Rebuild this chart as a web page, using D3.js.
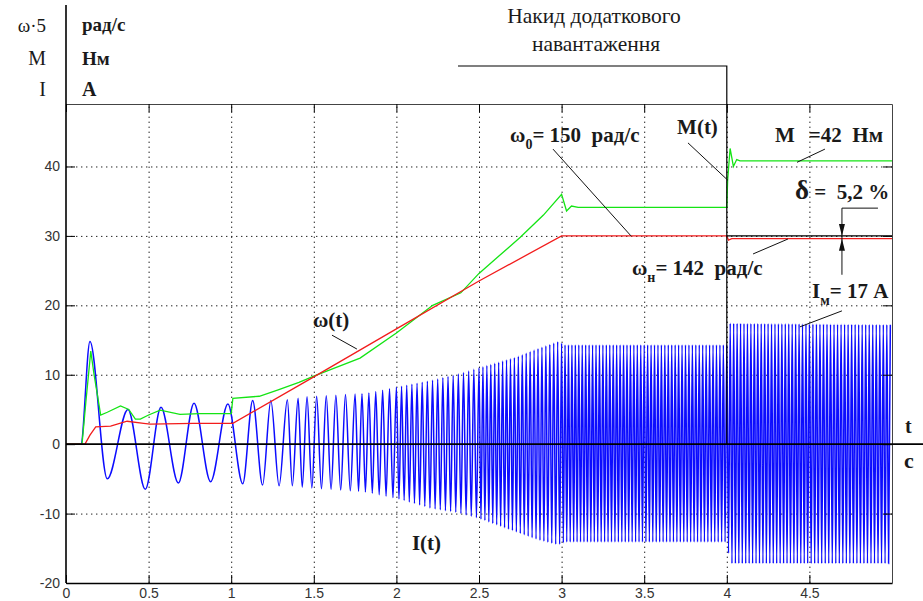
<!DOCTYPE html>
<html>
<head>
<meta charset="utf-8">
<script src="https://cdn.jsdelivr.net/npm/d3@7.9.0/dist/d3.min.js"></script>
<style>
  body { margin: 0; background: #fff; }
  svg text.serif { font-family: "Liberation Serif", "DejaVu Serif", serif; fill: #1a1a1a; white-space: pre; }
  .tick text { font-family: "Liberation Sans", Arial, sans-serif; font-size: 14px; fill: #333; }
  .ann { font-weight: bold; font-size: 21px; }
</style>
</head>
<body>
<svg id="chart" width="923" height="601"></svg>
<script>
// tick values
const xTicks = [0, 0.5, 1, 1.5, 2, 2.5, 3, 3.5, 4, 4.5];
const yTicks = [-20, -10, 0, 10, 20, 30, 40];

// M(t), green
const mT = [0, 0.097, 0.12, 0.15, 0.17, 0.21, 0.25, 0.33, 0.38, 0.42, 0.45, 0.5, 0.57, 0.69, 0.81, 1.0, 1.01, 1.17, 1.28, 1.41, 1.5, 1.78, 2.0, 2.22, 2.39, 2.5, 2.75, 2.89, 3.0, 3.03, 3.06, 3.1, 4.0, 4.005, 4.02, 4.04, 4.06, 4.08, 5.0];
const mV = [0, 0, 6, 13.4, 10, 4.2, 4.6, 5.5, 5.0, 3.6, 3.6, 4.2, 4.9, 4.3, 4.4, 4.4, 6.6, 6.9, 7.8, 8.9, 9.8, 12.4, 16, 20, 21.8, 24.6, 29.8, 33, 36, 33.6, 34.3, 34.1, 34.1, 38, 42.6, 40, 41, 40.8, 40.8];

// omega(t)/5, red
const wT = [0, 0.115, 0.145, 0.18, 0.27, 0.37, 0.47, 0.51, 0.77, 1.01, 1.5, 2.0, 2.5, 3.0, 4.0, 4.01, 4.03, 5.0];
const wV = [0, 0, 1.3, 2.5, 2.6, 3.3, 3.0, 2.9, 3.0, 3.0, 9.7, 16.6, 23.5, 30, 30, 29.4, 29.6, 29.6];

// I(t), blue: peaks that can be read one by one at the start
const iPeakT = [0, 0.09, 0.145, 0.25, 0.375, 0.48, 0.575, 0.68, 0.775, 0.875, 0.98, 1.07, 1.13, 1.19, 1.24, 1.29, 1.34, 1.37, 1.405, 1.43];
const iPeakV = [0, 0, 14.8, -5, 5, -6.5, 5.3, -5.6, 5.9, -5.4, 5.8, -5.7, 6.3, -5.9, 6.3, -6.0, 6.4, -6.0, 6.6, -6.2];
// dense part: envelope
const envT  = [1.43, 1.82, 2.0, 2.22, 2.36, 2.5, 2.72, 2.86, 2.98, 3.02, 4.0, 4.02, 5.0];
const envHi = [6.8, 7.3, 8.2, 9.2, 10, 11, 12.5, 13.8, 14.8, 14.3, 14.3, 17.4, 17.2];
const envLo = [-6.2, -6.9, -7.8, -9.3, -9.8, -10.7, -12.6, -13.8, -14.5, -14.1, -14.1, -17.2, -17.2];
// half-cycles counted in each interval
const denseT = [1.43, 1.75, 2.0, 2.5, 3.0, 3.5, 4.0, 4.5, 4.99];
const denseHalf = [11, 12, 32, 42, 48, 48, 48, 46];

const svg = d3.select('#chart');
const x = d3.scaleLinear().domain([0, 5]).range([66, 892]);
const y = d3.scaleLinear().domain([-20, 49]).range([583, 104]);
const plotH = y(-20) - y(49), plotW = x(5) - x(0);

svg.append('clipPath').attr('id', 'clip')
  .append('rect').attr('x', x(0)).attr('y', y(49)).attr('width', plotW).attr('height', plotH);

//dotted grid
svg.append('g').attr('transform', `translate(0,${y(-20)})`)
  .call(d3.axisBottom(x).tickValues(xTicks.slice(1)).tickSize(-plotH).tickFormat(''))
  .call(g => g.select('.domain').remove())
  .selectAll('line').attr('stroke', '#222').attr('stroke-dasharray', '1.4,3.6');
svg.append('g').attr('transform', `translate(${x(0)},0)`)
  .call(d3.axisLeft(y).tickValues([-10, 10, 20, 30, 40]).tickSize(-plotW).tickFormat(''))
  .call(g => g.select('.domain').remove())
  .selectAll('line').attr('stroke', '#222').attr('stroke-dasharray', '1.4,3.6');

//curves
const line = d3.line().x(d => x(d[0])).y(d => y(d[1]));
const hi = d3.scaleLinear().domain(envT).range(envHi);
const lo = d3.scaleLinear().domain(envT).range(envLo);
const iPts = iPeakT.map((t, k) => [t, iPeakV[k]]);
let sign = 1;
for (let s = 0; s < denseT.length - 1; s++) {
  const a = denseT[s], b = denseT[s + 1], n = denseHalf[s];
  for (let k = 1; k <= n; k++) {
    const t = a + (b - a) * k / n;
    iPts.push([t, sign > 0 ? hi(t) : lo(t)]);
    sign = -sign;
  }
}
const curves = svg.append('g').attr('clip-path', 'url(#clip)');
curves.append('path').datum(iPts)
  .attr('d', line.curve(d3.curveMonotoneX))
  .attr('fill', 'none').attr('stroke', '#0c0cff').attr('stroke-width', 1.5);
curves.append('path').datum(mT.map((t, k) => [t, mV[k]]))
  .attr('d', line.curve(d3.curveLinear))
  .attr('fill', 'none').attr('stroke', '#14e414').attr('stroke-width', 1.3);
curves.append('path').datum(wT.map((t, k) => [t, wV[k]]))
  .attr('d', line.curve(d3.curveLinear))
  .attr('fill', 'none').attr('stroke', '#f21c1c').attr('stroke-width', 1.3);

//axes with inner ticks
svg.append('g').attr('transform', `translate(0,${y(-20)})`)
  .call(d3.axisBottom(x).tickValues(xTicks).tickSize(-8).tickSizeOuter(0).tickPadding(5).tickFormat(String))
  .call(g => g.select('.domain').attr('stroke-width', 1.6));
svg.append('g').attr('transform', `translate(0,${y(49)})`)
  .call(d3.axisTop(x).tickValues(xTicks).tickSize(-8).tickSizeOuter(0).tickFormat(''))
  .call(g => g.select('.domain').attr('stroke', '#444'));
svg.append('g').attr('transform', `translate(${x(0)},0)`)
  .call(d3.axisLeft(y).tickValues(yTicks).tickSize(-9).tickSizeOuter(0).tickPadding(6).tickFormat(String))
  .call(g => g.select('.domain').remove());
svg.append('g').attr('transform', `translate(${x(5)},0)`)
  .call(d3.axisRight(y).tickValues(yTicks).tickSize(-9).tickSizeOuter(0).tickFormat(''))
  .call(g => g.select('.domain').attr('stroke', '#444'));

//left axis line runs up through the header
svg.append('line').attr('x1', x(0)).attr('x2', x(0)).attr('y1', 5).attr('y2', y(-20))
  .attr('stroke', '#000').attr('stroke-width', 1.6);
//zero line
svg.append('line').attr('x1', x(0)).attr('x2', 923).attr('y1', y(0)).attr('y2', y(0))
  .attr('stroke', '#000').attr('stroke-width', 1.6);
//omega0 reference line after load
svg.append('line').attr('x1', x(4)).attr('x2', x(5)).attr('y1', y(30)).attr('y2', y(30))
  .attr('stroke', '#000').attr('stroke-width', 1.2);
//load step marker
svg.append('path')
  .attr('d', `M458,66 H${x(4)} V${y(0)}`)
  .attr('fill', 'none').attr('stroke', '#000').attr('stroke-width', 1.2);

function txt(px, py, s, size, bold, anchor) {
  return svg.append('text').attr('class', 'serif').attr('x', px).attr('y', py)
    .attr('font-size', size).attr('font-weight', bold ? 'bold' : 'normal')
    .attr('text-anchor', anchor || 'start').text(s);
}
//header units
txt(46, 32, 'ω·5', 19, false, 'end');
txt(46, 65, 'M', 20, false, 'end');
txt(46, 96, 'I', 20, false, 'end');
txt(82, 31, 'рад/с', 19, true);
txt(82, 65, 'Нм', 19, true);
txt(82, 96, 'A', 20, true);
txt(594, 23, 'Накид додаткового', 21.5, false, 'middle');
txt(596, 51, 'навантаження', 21.5, false, 'middle');

//annotations (in data units)
function label(t, v, parts, size) {
  const tx = svg.append('text').attr('class', 'serif ann').attr('x', x(t)).attr('y', y(v));
  if (size) tx.attr('font-size', size);
  parts.forEach(p => {
    const sp = tx.append('tspan').text(p.s);
    if (p.sub) sp.attr('font-size', 14).attr('dy', 7);
    if (p.up) sp.attr('dy', -7);
    if (p.big) sp.attr('font-size', 27);
    if (p.dx) sp.attr('dx', p.dx);
  });
}
function leader(t1, v1, t2, v2) {
  svg.append('line').attr('x1', x(t1)).attr('y1', y(v1)).attr('x2', x(t2)).attr('y2', y(v2))
    .attr('stroke', '#111').attr('stroke-width', 1);
}
label(2.688, 43.5, [{ s: 'ω' }, { s: '0', sub: true }, { s: '= 150  рад/с', up: true }]);
leader(2.948, 42.5, 3.42, 30);
label(3.699, 44.7, [{ s: 'M(t)' }]);
leader(3.765, 43.4, 4.007, 38);
label(4.292, 43.5, [{ s: 'M' }, { s: '=42  Нм', dx: 14 }]);
leader(4.425, 40.6, 4.594, 42.5);
label(4.413, 35.3, [{ s: 'δ', big: true }, { s: ' =  5,2 %' }]);
label(3.426, 24.4, [{ s: 'ω' }, { s: 'н', sub: true }, { s: '= 142  рад/с', up: true }]);
leader(4.159, 27.4, 4.37, 29.55);
label(4.516, 21.05, [{ s: 'I' }, { s: 'м', sub: true }, { s: '= 17 A', up: true }]);
leader(4.443, 16.9, 4.697, 19.2);
label(1.495, 16.9, [{ s: 'ω(t)' }], 22);
leader(1.61, 15.7, 1.761, 13.7);
label(2.094, -15.25, [{ s: 'I(t)' }], 21);

//delta dimension
svg.append('path')
  .attr('d', `M${x(4.915)},${y(34)} H${x(4.697)} V${y(24.4)}`)
  .attr('fill', 'none').attr('stroke', '#111').attr('stroke-width', 1);
const ax = x(4.697);
svg.append('path')
  .attr('d', `M${ax - 3},${y(30) - 12} L${ax},${y(30)} L${ax + 3},${y(30) - 12} Z M${ax - 3},${y(29.6) + 12} L${ax},${y(29.6)} L${ax + 3},${y(29.6) + 12} Z`)
  .attr('fill', '#111');

//time axis units
txt(905, 433, 't', 20, true);
txt(904, 468, 'c', 22, true);
</script>
</body>
</html>
